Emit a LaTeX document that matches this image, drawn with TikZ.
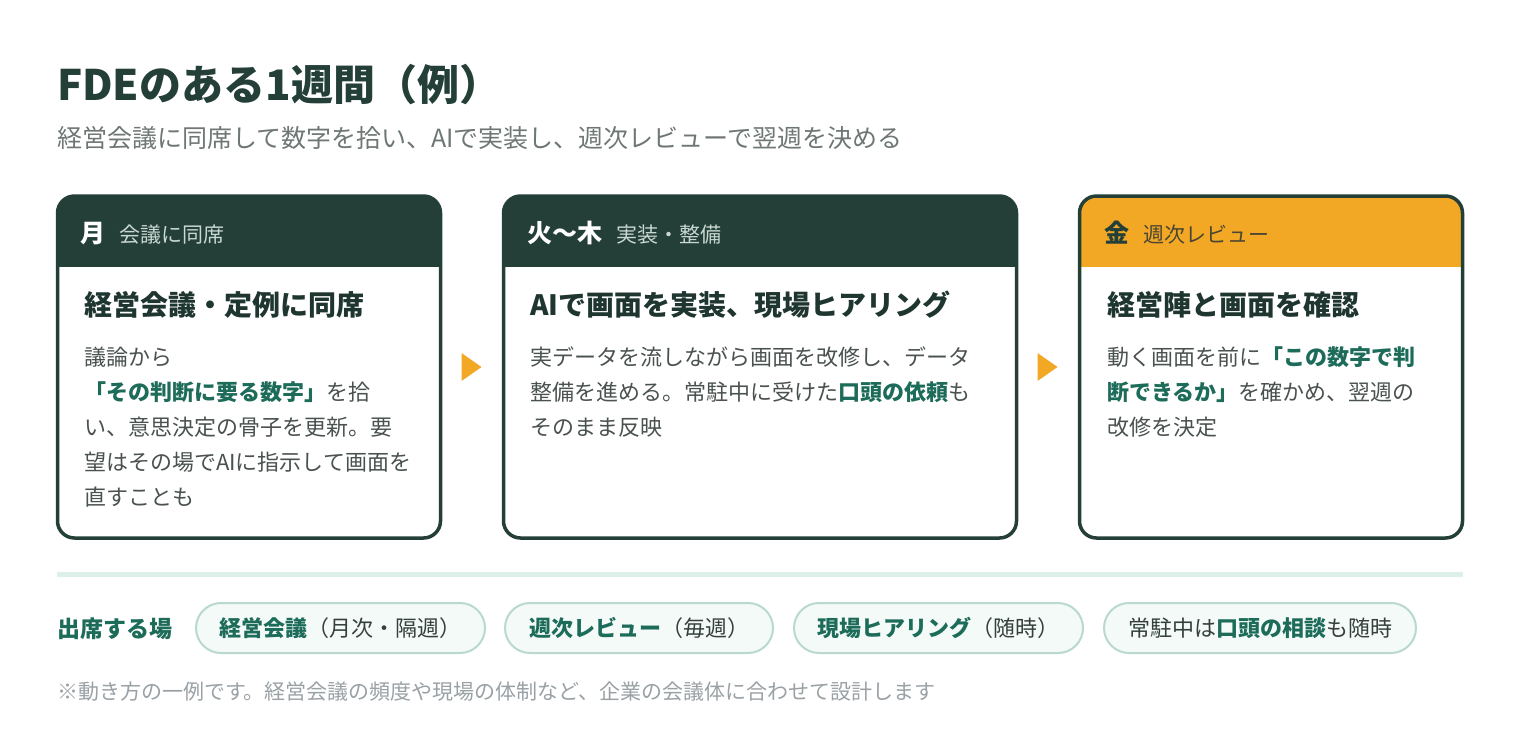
\documentclass[tikz,border=0pt]{standalone}
\usepackage{fontspec}
\setmainfont{Noto Sans CJK JP}
\usetikzlibrary{calc}
\definecolor{dk}{HTML}{233F38}
\definecolor{org}{HTML}{F2A825}
\definecolor{hl}{HTML}{1D6B59}
\definecolor{ttl}{HTML}{1E3530}
\definecolor{bodyc}{HTML}{4A5250}
\definecolor{pilltx}{HTML}{33403C}
\definecolor{subc}{HTML}{6E7773}
\definecolor{notec}{HTML}{9AA1A5}
\definecolor{hdsub}{HTML}{C9D7D1}
\definecolor{hdsubo}{HTML}{4A4634}
\definecolor{divc}{HTML}{DDEFE9}
\definecolor{pillf}{HTML}{F3FAF8}
\definecolor{pilld}{HTML}{B9D8CE}
\newcommand{\myfs}[2]{\fontsize{#1pt}{#2pt}\selectfont}
\newcommand{\hlt}[1]{{\bfseries\color{hl}#1}}
\tikzset{
  txt/.style={anchor=base west, inner sep=0pt, outer sep=0pt},
  cardbg/.style={fill=white, draw=none, inner sep=0pt, outer sep=0pt, rounded corners=17pt},
  cardline/.style={draw=dk, line width=3.5pt, rounded corners=17pt},
  headtxt/.style={txt, text=white},
  bodytitle/.style={txt, font=\bfseries\myfs{28}{28}, text=ttl},
  bodytext/.style={txt, font=\myfs{22}{22}, text=bodyc},
  pill/.style={draw=pilld, line width=2pt, fill=pillf, rounded corners=25pt,
    minimum height=50pt, inner sep=0pt, font=\myfs{22}{22}, text=pilltx},
  arrowtri/.style={fill=org, draw=none},
}
\begin{document}
\begin{tikzpicture}[x=1pt,y=-1pt]
\useasboundingbox (0,0) rectangle (1520,748);
\fill[white] (0,0) rectangle (1520,748);

% title
\node[txt, font=\bfseries\myfs{42}{42}, text=dk] (title) at (57,100) {FDEのある1週間（例）};
\node[txt, font=\myfs{25}{25}, text=subc] (subtitle) at (57,147) {経営会議に同席して数字を拾い、AIで実装し、週次レビューで翌週を決める};

% cards backgrounds
\node[cardbg, minimum width=383pt, minimum height=342pt] (c1) at (249,367) {};
\node[cardbg, minimum width=513pt, minimum height=342pt] (c2) at (760,367) {};
\node[cardbg, minimum width=383pt, minimum height=342pt] (c3) at (1271,367) {};

% headers
\begin{scope}
\clip[rounded corners=17pt] (c1.north west) rectangle (c1.south east);
\fill[dk] (c1.north west) rectangle ($(c1.north east)+(0,71)$);
\end{scope}
\begin{scope}
\clip[rounded corners=17pt] (c2.north west) rectangle (c2.south east);
\fill[dk] (c2.north west) rectangle ($(c2.north east)+(0,71)$);
\end{scope}
\begin{scope}
\clip[rounded corners=17pt] (c3.north west) rectangle (c3.south east);
\fill[org] (c3.north west) rectangle ($(c3.north east)+(0,71)$);
\end{scope}

% borders
\draw[cardline] (c1.north west) rectangle (c1.south east);
\draw[cardline] (c2.north west) rectangle (c2.south east);
\draw[cardline] (c3.north west) rectangle (c3.south east);

% header texts
\node[headtxt] (h1) at (80,242) {{\bfseries\myfs{25}{25}月}\hspace{14pt}{\myfs{21}{21}\color{hdsub}会議に同席}};
\node[headtxt] (h2) at (527,242) {{\bfseries\myfs{25}{25}火〜木}\hspace{14pt}{\myfs{21}{21}\color{hdsub}実装・整備}};
\node[headtxt, text=dk] (h3) at (1104,242) {{\bfseries\myfs{25}{25}金}\hspace{14pt}{\myfs{21}{21}\color{hdsubo}週次レビュー}};

% card 1 body
\node[bodytitle] (t1) at (84,315) {経営会議・定例に同席};
\node[bodytext] (b1a) at (84,365) {議論から};
\node[bodytext] (b1b) at (84,400) {\hlt{「その判断に要る数字」}を拾};
\node[bodytext] (b1c) at (84,435) {い、意思決定の骨子を更新。要};
\node[bodytext] (b1d) at (84,470) {望はその場でAIに指示して画面を};
\node[bodytext] (b1e) at (84,505) {直すことも};

% card 2 body
\node[bodytitle] (t2) at (530,315) {AIで画面を実装、現場ヒアリング};
\node[bodytext] (b2a) at (530,365) {実データを流しながら画面を改修し、データ};
\node[bodytext] (b2b) at (530,400) {整備を進める。常駐中に受けた\hlt{口頭の依頼}も};
\node[bodytext] (b2c) at (530,435) {そのまま反映};

% card 3 body
\node[bodytitle] (t3) at (1107,315) {経営陣と画面を確認};
\node[bodytext] (b3a) at (1107,365) {動く画面を前に\hlt{「この数字で判}};
\node[bodytext] (b3b) at (1107,400) {\hlt{断できるか」}を確かめ、翌週の};
\node[bodytext] (b3c) at (1107,435) {改修を決定};

% arrows between cards
\fill[arrowtri] ($(c1.east)+(21,-14)$) -- ($(c1.east)+(21,14)$) -- ($(c1.east)+(41,0)$) -- cycle;
\fill[arrowtri] ($(c2.east)+(21,-14)$) -- ($(c2.east)+(21,14)$) -- ($(c2.east)+(41,0)$) -- cycle;

% divider
\draw[divc, line width=5.5pt] (57,574.5) -- (1463,574.5);

% places
\node[txt, font=\bfseries\myfs{23}{23}, text=hl] (lbl) at (57,637) {出席する場};
\node[pill, minimum width=289pt] (p1) at (340.5,628) {\hlt{経営会議}（月次・隔週）};
\node[pill, minimum width=268pt] (p2) at (639,628) {\hlt{週次レビュー}（毎週）};
\node[pill, minimum width=289pt] (p3) at (938.5,628) {\hlt{現場ヒアリング}（随時）};
\node[pill, minimum width=312pt] (p4) at (1260,628) {常駐中は\hlt{口頭の相談}も随時};

% footnote
\node[txt, font=\myfs{21}{21}, text=notec] (note) at (57,699) {※動き方の一例です。経営会議の頻度や現場の体制など、企業の会議体に合わせて設計します};
\end{tikzpicture}
\end{document}
